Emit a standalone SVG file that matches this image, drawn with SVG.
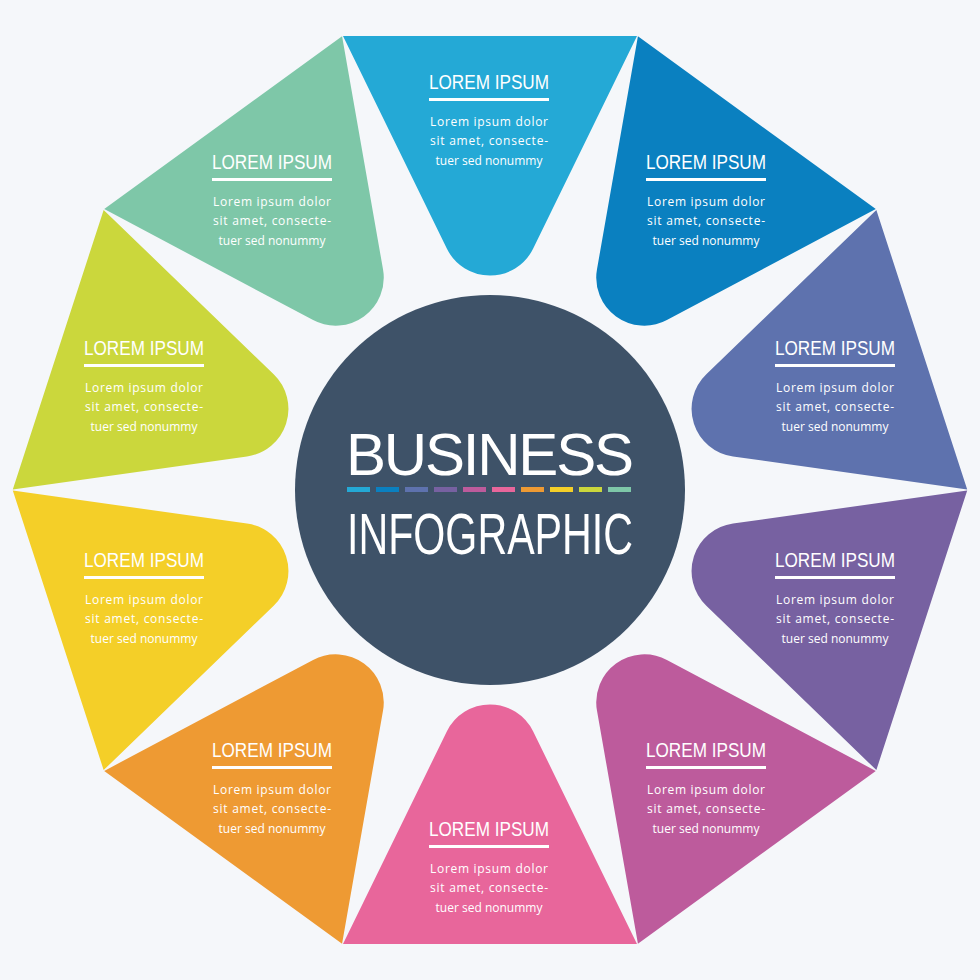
<svg xmlns="http://www.w3.org/2000/svg" width="980" height="980" viewBox="0 0 980 980">
<style>
.t{font-family:"Liberation Sans",Arial,sans-serif;font-size:20px;fill:#fff;text-anchor:middle}
.b{font-family:"Open Sans","Liberation Sans",sans-serif;font-size:12px;fill:#fff;text-anchor:middle}
.c{font-family:"Liberation Sans",Arial,sans-serif;fill:#fff;text-anchor:middle}
</style>
<defs>
<path id="seg" d="M343,36 L637,36 L533.2,248.5 A48,48 0 0 1 446.8,248.5 Z"/>
<g id="txt">
<text class="t" y="0" textLength="120" lengthAdjust="spacingAndGlyphs">LOREM IPSUM</text>
<rect x="-60" y="9" width="120" height="3" fill="#fff"/>
<text class="b" y="37" textLength="118" lengthAdjust="spacing">Lorem ipsum dolor</text>
<text class="b" y="56" textLength="118" lengthAdjust="spacing">sit amet, consecte-</text>
<text class="b" y="76">tuer sed nonummy</text>
</g>
</defs>
<rect width="980" height="980" fill="#F5F7FA"/>
<g id="segments">
<use id="s1" href="#seg" fill="#24A9D6"/>
<use id="s2" href="#seg" fill="#0A80C0" transform="rotate(36 490 490)"/>
<use id="s3" href="#seg" fill="#5E72AE" transform="rotate(72 490 490)"/>
<use id="s4" href="#seg" fill="#7761A1" transform="rotate(108 490 490)"/>
<use id="s5" href="#seg" fill="#BD5B9C" transform="rotate(144 490 490)"/>
<use id="s6" href="#seg" fill="#E8669B" transform="rotate(180 490 490)"/>
<use id="s7" href="#seg" fill="#EE9A33" transform="rotate(216 490 490)"/>
<use id="s8" href="#seg" fill="#F4CF28" transform="rotate(252 490 490)"/>
<use id="s9" href="#seg" fill="#CBD73C" transform="rotate(288 490 490)"/>
<use id="s10" href="#seg" fill="#7EC7A8" transform="rotate(324 490 490)"/>
</g>
<g id="labels">
<use href="#txt" transform="translate(489,89)"/>
<use href="#txt" transform="translate(706,169)"/>
<use href="#txt" transform="translate(835,355)"/>
<use href="#txt" transform="translate(835,567)"/>
<use href="#txt" transform="translate(706,757)"/>
<use href="#txt" transform="translate(489,836)"/>
<use href="#txt" transform="translate(272,757)"/>
<use href="#txt" transform="translate(144,567)"/>
<use href="#txt" transform="translate(144,355)"/>
<use href="#txt" transform="translate(272,169)"/>
</g>
<g id="center">
<circle cx="490" cy="490" r="195" fill="#3E5268"/>
<text class="c" x="490" y="475" font-size="60" textLength="288" lengthAdjust="spacing">BUSINESS</text>
<text class="c" x="490" y="554" font-size="58" textLength="286" lengthAdjust="spacingAndGlyphs">INFOGRAPHIC</text>
<g>
<rect x="347" y="487" width="23" height="5" fill="#24A9D6"/>
<rect x="376" y="487" width="23" height="5" fill="#0A80C0"/>
<rect x="405" y="487" width="23" height="5" fill="#5E72AE"/>
<rect x="434" y="487" width="23" height="5" fill="#7761A1"/>
<rect x="463" y="487" width="23" height="5" fill="#BD5B9C"/>
<rect x="492" y="487" width="23" height="5" fill="#E8669B"/>
<rect x="521" y="487" width="23" height="5" fill="#EE9A33"/>
<rect x="550" y="487" width="23" height="5" fill="#F4CF28"/>
<rect x="579" y="487" width="23" height="5" fill="#CBD73C"/>
<rect x="608" y="487" width="23" height="5" fill="#7EC7A8"/>
</g>
</g>
</svg>
